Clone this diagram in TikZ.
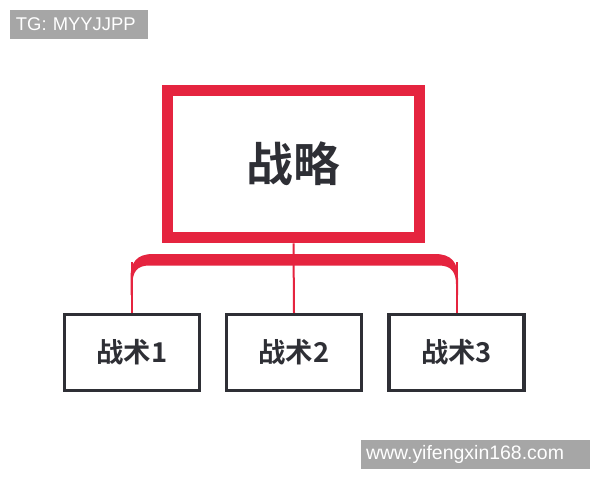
\documentclass[tikz,border=0pt]{standalone}
\usepackage{fontspec}
\setmainfont{Liberation Sans}
\newfontfamily\cjk{Noto Sans CJK SC}[BoldFont={Noto Sans CJK SC Bold}]
\definecolor{accent}{HTML}{E5243F}
\definecolor{ink}{HTML}{2E2F35}
\definecolor{wm}{HTML}{A6A6A6}
\begin{document}
\begin{tikzpicture}[x=0.75pt,y=-0.75pt,
  topbox/.style={draw=accent,line width=8.6pt,minimum width=251.5*0.75pt,minimum height=147.5*0.75pt,inner sep=0pt,font=\cjk\bfseries\fontsize{35}{40}\selectfont,text=ink},
  subbox/.style={draw=ink,line width=2.6pt,minimum width=135*0.75pt,minimum height=76*0.75pt,inner sep=0pt,font=\cjk\bfseries\fontsize{20.5}{24}\selectfont,text=ink},
  link/.style={draw=accent,line width=1.5pt},
  wmbox/.style={fill=wm,text=white,inner sep=0pt}]
\useasboundingbox (0,0) rectangle (600,480);
\fill[white] (0,0) rectangle (600,480);
% watermarks
\node[wmbox,font=\fontsize{13.8}{16}\selectfont,minimum width=138*0.75pt,minimum height=29*0.75pt,text width=126*0.75pt,align=left] (tg) at (79,24.5) {TG: MYYJJPP};
\node[wmbox,font=\fontsize{14.6}{16}\selectfont,minimum width=229*0.75pt,minimum height=29*0.75pt,text width=219*0.75pt,align=left] (url) at (475.5,454.5) {www.yifengxin168.com};
% nodes
\node[topbox] (top) at (293.5,164) {战略};
\node[subbox] (b1) at (132,352.5) {战术1};
\node[subbox] (b2) at (294,352.5) {战术2};
\node[subbox] (b3) at (456.5,352.5) {战术3};
\coordinate (bar) at (294,262);
% connectors
\draw[link] (top.south) -- (b2.north);
\draw[link] (b1.north) -- (b1.north |- bar);
\draw[link] (b3.north) -- (b3.north |- bar);
\fill[accent] (130.5,295) -- (130.5,278)
  .. controls (130.5,262) and (137,254) .. (153,254) -- (435,254)
  .. controls (451,254) and (458,262) .. (458,278) -- (458,295) -- (456,295) -- (456,284)
  .. controls (456,272) and (451,265.5) .. (439,265.5) -- (149,265.5)
  .. controls (137,265.5) and (132.5,272) .. (132.5,284) -- (132.5,295) -- cycle;
\end{tikzpicture}
\end{document}
